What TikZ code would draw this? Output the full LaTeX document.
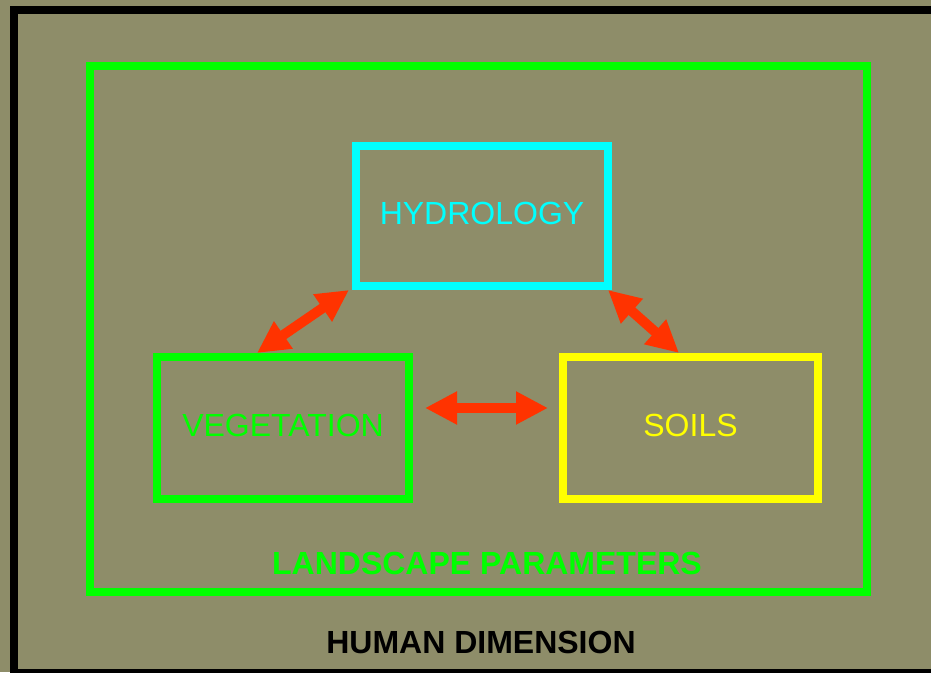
\documentclass[tikz,border=0pt]{standalone}
\usepackage{fontspec}
\setmainfont{Liberation Sans}
\usepackage{tikz}
\usetikzlibrary{positioning, arrows.meta, calc}
\definecolor{bgOlive}{HTML}{8E8D69}
\definecolor{lGreen}{HTML}{00FF00}
\definecolor{lCyan}{HTML}{00FFFF}
\definecolor{lYellow}{HTML}{FFFF00}
\definecolor{lRed}{HTML}{FF3300}

\begin{document}
\begin{tikzpicture}[x=1pt, y=1pt,
      topic/.style={draw, line width=8pt, minimum width=252pt, minimum height=142pt,
        text depth=5pt, align=center, font=\fontsize{32}{38}\selectfont},
      label/.style={font=\fontsize{32}{38}\selectfont\bfseries},
      link/.style={{Triangle[length=32pt,width=31pt]}-{Triangle[length=32pt,width=31pt]},
        line width=10pt, lRed}]
      \useasboundingbox (0,0) rectangle (931,672);
      \clip (0,0) rectangle (931,672);
      \fill[bgOlive] (0,0) rectangle (931,672);
      \draw[line width=8pt, black] (14,-1) rectangle (945,662);
      % landscape frame
      \draw[line width=8pt, lGreen] (89.5,80.5) rectangle (866.5,606);
      \node[label, text=lGreen] (land) at (487,108.5) {LANDSCAPE PARAMETERS};
      \node[label, text=black] (human) at (481,30) {HUMAN DIMENSION};
      % the three parameters
      \node[topic, draw=lCyan, text=lCyan, minimum height=140pt] (hyd) at (482,456) {HYDROLOGY};
      \node[topic, draw=lGreen, text=lGreen] (veg) at (283,244) {VEGETATION};
      \node[topic, draw=lYellow, text=lYellow, minimum width=255pt] (soils) at (690.5,244) {SOILS};
      \draw[link] ([xshift=-26pt]veg.north) -- ([xshift=-3pt]hyd.south west);
      \draw[link] ([xshift=-4pt]hyd.south east) -- ([xshift=-11.5pt]soils.north);
      \draw[link] ([shift={(12pt,20pt)}]veg.east) -- ([shift={(-11pt,20pt)}]soils.west);
    \end{tikzpicture}
\end{document}
